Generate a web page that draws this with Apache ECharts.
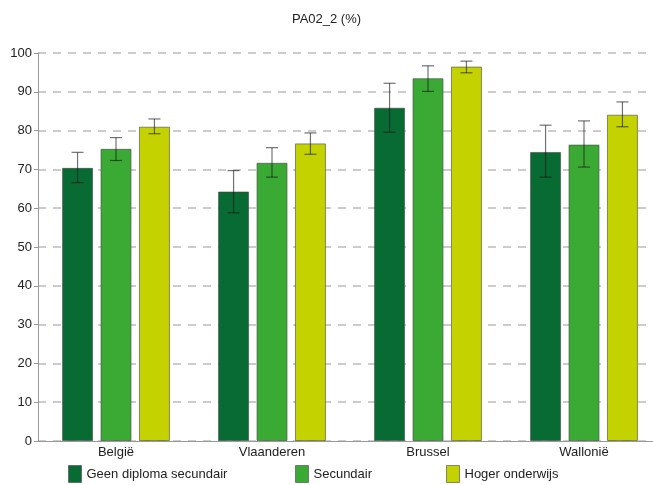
<!DOCTYPE html>
<html>
<head>
<meta charset="utf-8">
<script src="https://cdn.jsdelivr.net/npm/echarts@6/dist/echarts.min.js"></script>
<style>html,body{margin:0;padding:0;background:#fff}#c{width:653px;height:485px}</style>
</head>
<body>
<div id="c"></div>
<script>
const categories = ['België', 'Vlaanderen', 'Brussel', 'Wallonië'];
const seriesNames = ['Geen diploma secundair', 'Secundair', 'Hoger onderwijs'];
const geenDiploma = [70.4, 64.3, 85.9, 74.5];
const geenDiplomaLow = [66.6, 58.8, 79.6, 68.0];
const geenDiplomaHigh = [74.4, 69.7, 92.2, 81.4];
const secundair = [75.3, 71.7, 93.5, 76.4];
const secundairLow = [72.3, 68.0, 90.1, 70.6];
const secundairHigh = [78.2, 75.6, 96.7, 82.5];
const hoger = [81.0, 76.7, 96.5, 84.1];
const hogerLow = [79.2, 73.9, 94.9, 81.0];
const hogerHigh = [83.0, 79.4, 97.9, 87.4];
const yTicks = [0, 10, 20, 30, 40, 50, 60, 70, 80, 90, 100];

const colors = ['#086b33', '#3aaa35', '#c4d300'];
const BAR_W = 31;
const BAR_GAP = 0.24;
const GRID_LEFT = 38;
const CAT_PX = 156;
const W = 653;
const values = [geenDiploma, secundair, hoger];
const lows = [geenDiplomaLow, secundairLow, hogerLow];
const highs = [geenDiplomaHigh, secundairHigh, hogerHigh];
const catIdx = categories.map((c, k) => k);
const xMin = -0.5;
const xMax = xMin + (W - GRID_LEFT) / CAT_PX;

const chart = echarts.init(document.getElementById('c'), null, {renderer: 'canvas'});
const font = 'Liberation Sans, Arial, sans-serif';

const series = [];
values.forEach((vals, i) => {
  series.push({
    name: seriesNames[i],
    type: 'bar',
    data: vals.map((v, k) => [catIdx[k], v]),
    barWidth: BAR_W,
    barGap: (BAR_GAP * 100) + '%',
    itemStyle: {color: colors[i], borderColor: 'rgba(70,70,70,0.6)', borderWidth: 1},
    animation: false
  });
});
values.forEach((vals, i) => {
  const offset = (i - 1) * BAR_W * (1 + BAR_GAP);
  series.push({
    type: 'custom',
    animation: false,
    silent: true,
    z: 10,
    data: catIdx.map(k => [k, lows[i][k], highs[i][k]]),
    encode: {x: 0, y: [1, 2]},
    renderItem: function (params, api) {
      const lo = api.coord([api.value(0), api.value(1)]);
      const hi = api.coord([api.value(0), api.value(2)]);
      const x = lo[0] + offset;
      const hw = 6;
      const st = {stroke: 'rgba(20,20,20,0.6)', lineWidth: 1.2};
      return {
        type: 'group',
        children: [
          {type: 'line', shape: {x1: x, y1: lo[1], x2: x, y2: hi[1]}, style: st},
          {type: 'line', shape: {x1: x - hw, y1: lo[1], x2: x + hw, y2: lo[1]}, style: st},
          {type: 'line', shape: {x1: x - hw, y1: hi[1], x2: x + hw, y2: hi[1]}, style: st}
        ]
      };
    }
  });
});

const legendLefts = [68, 295, 446];
const legends = seriesNames.map((n, i) => ({
  data: [n],
  left: legendLefts[i],
  top: 465,
  padding: 0,
  itemWidth: 13,
  itemHeight: 17,
  icon: 'rect',
  selectedMode: false,
  itemStyle: {borderColor: 'rgba(70,70,70,0.6)', borderWidth: 1},
  textStyle: {fontFamily: font, fontSize: 13, color: '#222'}
}));

chart.setOption({
  backgroundColor: '#fff',
  title: {
    text: 'PA02_2 (%)',
    left: 'center',
    top: 8,
    textStyle: {fontFamily: font, fontSize: 13, fontWeight: 'normal', color: '#222'}
  },
  legend: legends,
  grid: {left: GRID_LEFT, right: 0, top: 53, bottom: 44, containLabel: false},
  xAxis: {
    type: 'value',
    min: xMin,
    max: xMax,
    axisLine: {show: true, onZero: false, lineStyle: {color: '#999', width: 1}},
    axisTick: {show: false},
    splitLine: {show: false},
    axisLabel: {
      customValues: catIdx,
      fontFamily: font, fontSize: 13, color: '#222', margin: 5,
      formatter: v => categories[Math.round(v)] || ''
    }
  },
  yAxis: {
    type: 'value',
    min: yTicks[0],
    max: yTicks[yTicks.length - 1],
    interval: 10,
    axisLine: {show: true, onZero: false, lineStyle: {color: '#999', width: 1}},
    axisTick: {show: true, length: 4, lineStyle: {color: '#999'}},
    axisLabel: {fontFamily: font, fontSize: 13, color: '#222', margin: 6},
    splitLine: {show: true, lineStyle: {color: '#cccccc', width: 2, type: [8, 7]}}
  },
  series: series
});
</script>
</body>
</html>
